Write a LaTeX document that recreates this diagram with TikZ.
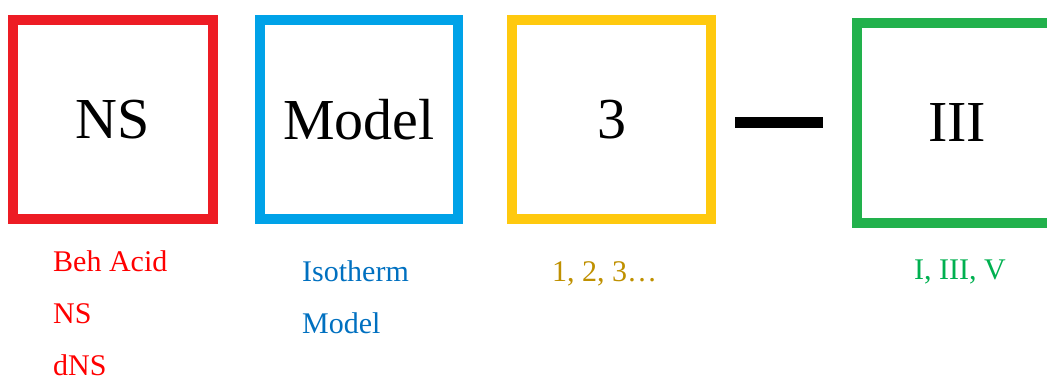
\documentclass[tikz,border=0pt]{standalone}
\usepackage{fontspec}
\setmainfont{Liberation Serif}
\usepackage{tikz}
\usetikzlibrary{positioning}
\definecolor{codered}{RGB}{237,28,36}
\definecolor{codeblue}{RGB}{0,162,232}
\definecolor{codeyellow}{RGB}{255,201,14}
\definecolor{codegreen}{RGB}{34,177,76}
\definecolor{notered}{RGB}{255,0,0}
\definecolor{noteblue}{RGB}{0,112,192}
\definecolor{notegold}{RGB}{191,144,0}
\definecolor{notegreen}{RGB}{0,176,80}
\tikzset{
  code box/.style={
    draw,
    line width=10pt,
    minimum width=199pt,
    minimum height=199pt,
    inner sep=0pt,
    font=\fontsize{58}{60}\selectfont,
  },
  code note/.style={
    anchor=base west,
    align=left,
    inner sep=0pt,
    font=\fontsize{30}{52}\selectfont,
  },
}
\begin{document}
\begin{tikzpicture}[x=1pt,y=-1pt]
  \useasboundingbox (0,0) rectangle (1047,376);
  \begin{scope}
    \clip (0,0) rectangle (1047,376);
    \node[code box, draw=codered, minimum width=200pt] (ns) at (113,119.5) {NS};
    \node[code box, draw=codeblue, minimum width=198pt] (model) at (359,119.5) {Model};
    \node[code box, draw=codeyellow] (num) at (611.5,119.5) {3};
    \node[code box, draw=codegreen, minimum width=200pt, minimum height=200.5pt] (roman) at (957,122.75) {III};
    \node[fill=black, inner sep=0pt, minimum width=88pt, minimum height=11pt] (dash) at (779,122.5) {};
  \end{scope}

  % base anchor sits on the last line
  \node[code note, text=notered] (nsnote) at (53,375) {Beh Acid\\NS\\dNS};
  \node[code note, text=noteblue] (modelnote) at (302,333) {Isotherm\\Model};
  \node[code note, text=notegold] (numnote) at (552,281) {1, 2, 3…};
  \node[code note, text=notegreen] (romannote) at (914,279) {I, III, V};
\end{tikzpicture}
\end{document}
